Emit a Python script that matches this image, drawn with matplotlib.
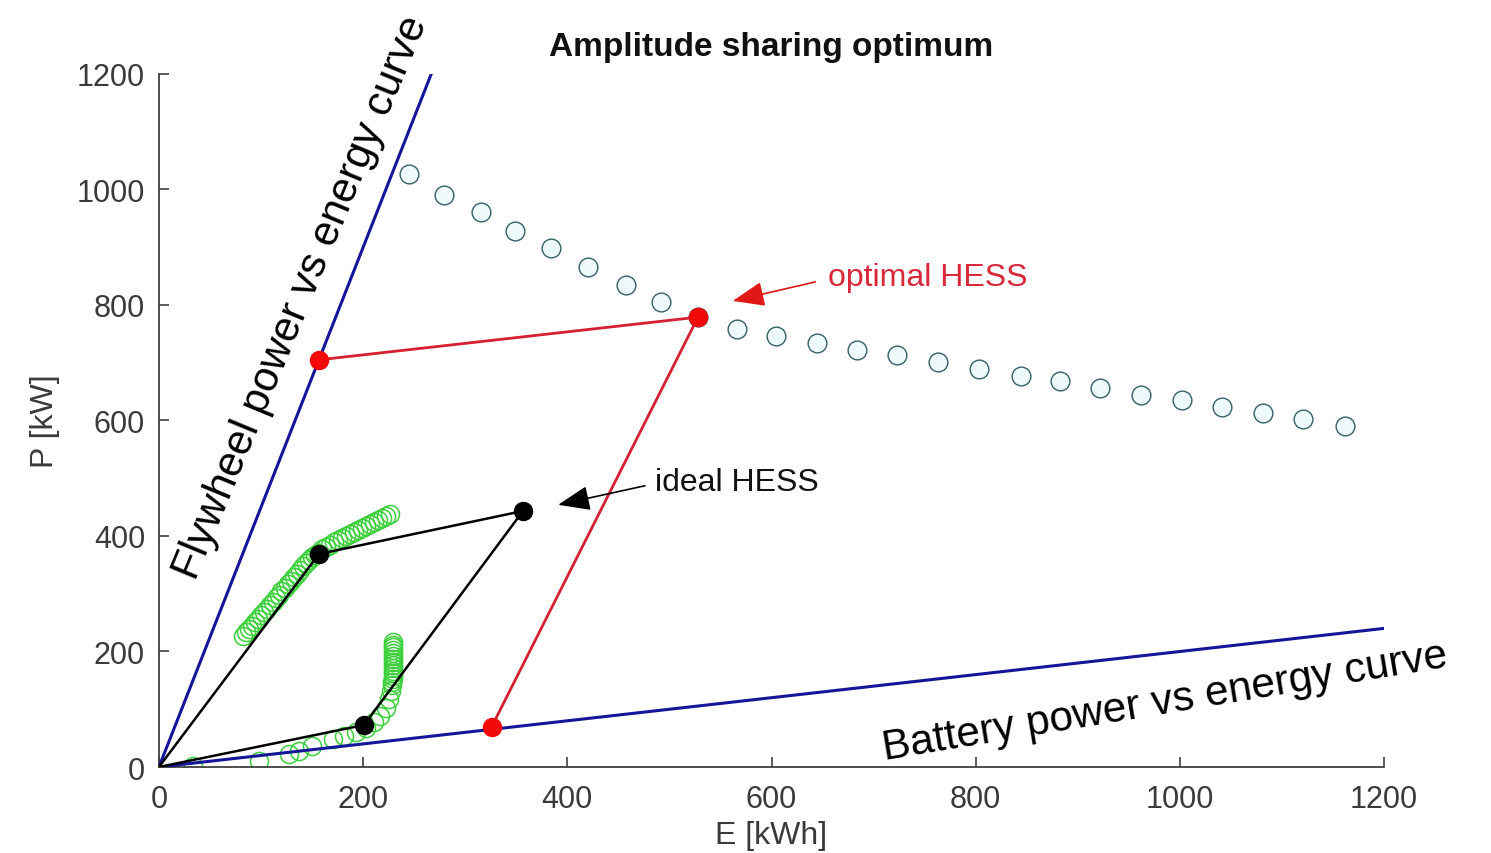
import matplotlib
matplotlib.use("Agg")
import matplotlib.pyplot as plt

plt.rcParams['font.family'] = ['Liberation Sans', 'DejaVu Sans']

# Storage characteristic lines (E [kWh], P [kW])
flywheel_E = [0, 266.7]
flywheel_P = [0, 1200]
battery_E = [0, 1200]
battery_P = [0, 240]

# Amplitude sharing candidates (blue circles)
sweep_E = [245, 279, 315, 349, 384, 420, 457, 492, 528, 566, 604, 645, 684, 723,
           763, 803, 844, 883, 922, 962, 1002, 1041, 1081, 1121, 1162]
sweep_P = [1027, 991, 961, 928, 899, 866, 835, 805, 779, 758, 746, 734, 722, 713,
           701, 689, 677, 668, 656, 644, 636, 623, 613, 603, 591]

# Flywheel-side trajectory (green circles, upper band)
fly_traj_E = [82, 85, 88, 91, 94, 97, 100, 103, 106, 109, 112, 115, 118, 120, 123,
              126, 129, 132, 135, 138, 141, 144, 147, 150, 153, 156,
              160, 164, 168, 171, 175, 179, 183, 187, 191, 195, 199, 203, 207, 211,
              215, 218, 222, 226]
fly_traj_P = [227, 234, 239, 244, 251, 256, 263, 268, 274, 280, 286, 293, 298, 305, 310,
              317, 322, 329, 334, 341, 348, 353, 358, 364, 367, 371,
              378, 381, 384, 390, 393, 397, 400, 404, 407, 410, 414, 417, 421, 424,
              428, 431, 435, 438]

# Battery-side trajectory (green circles, lower band)
bat_traj_E = [33, 98, 127, 137, 150, 170, 181, 193, 203, 211, 217, 222, 225, 227,
              228, 228, 229, 229, 229, 229, 229, 229, 229, 229, 229, 229, 229, 229, 229, 229]
bat_traj_P = [2, 11, 23, 28, 37, 49, 54, 61, 68, 78, 89, 103, 118, 132,
              142, 147, 152, 157, 162, 167, 172, 177, 182, 187, 192, 197, 202, 207, 212, 216]

# Ideal HESS (black) and optimal HESS (red) sizing paths
ideal_E = [0, 156.7, 356.6, 200.8, 0]
ideal_P = [0, 368.8, 443.3, 72.7, 0]
optimal_E = [156.6, 528, 326]
optimal_P = [705, 779, 70]

xticks = [0, 200, 400, 600, 800, 1000, 1200]
yticks = [0, 200, 400, 600, 800, 1000, 1200]

fig = plt.figure(figsize=(14.91, 8.54), dpi=100)
ax = fig.add_axes([0.1066, 0.1007, 0.8217, 0.8115])

blue = '#15159a'
ax.plot(flywheel_E, flywheel_P, color=blue, lw=2.2, zorder=3)
ax.plot(battery_E, battery_P, color=blue, lw=2.2, zorder=3)

ax.plot(sweep_E, sweep_P, 'o', ms=13.5, mfc='#eef9fc', mec='#35606a', mew=1.0,
        linestyle='none', zorder=2)

ax.plot(fly_traj_E, fly_traj_P, 'o', ms=13, mfc='none', mec='#3ccf3c', mew=1.1,
        linestyle='none', zorder=2)
ax.plot(bat_traj_E, bat_traj_P, 'o', ms=13, mfc='none', mec='#3ccf3c', mew=1.1,
        linestyle='none', zorder=2)

ax.plot(ideal_E, ideal_P, color='black', lw=1.8, zorder=4)
ax.plot(ideal_E[1:4], ideal_P[1:4], 'o', ms=13, color='black', linestyle='none', zorder=5)

ax.plot(optimal_E, optimal_P, color='#d42030', lw=2.0, zorder=4)
ax.plot(optimal_E, optimal_P, 'o', ms=13, color='#f20a0a', linestyle='none', zorder=5)

# Annotations
red_txt = '#d8283a'
ax.annotate('', xy=(562, 807), xytext=(643, 840),
            arrowprops=dict(arrowstyle='-|>,head_length=0.9,head_width=0.35',
                            color='#e01818', lw=1.2, mutation_scale=22,
                            shrinkA=0, shrinkB=0), zorder=6)
ax.text(655, 848, 'optimal HESS', color=red_txt, fontsize=23,
        ha='left', va='center', zorder=6)

ax.annotate('', xy=(391, 454), xytext=(476, 487),
            arrowprops=dict(arrowstyle='-|>,head_length=0.9,head_width=0.35',
                            color='black', lw=1.2, mutation_scale=22,
                            shrinkA=0, shrinkB=0), zorder=6)
ax.text(486, 493, 'ideal HESS', color='#111111', fontsize=23,
        ha='left', va='center', zorder=6)

ax.text(139, 815, 'Flywheel power vs energy curve', fontsize=30.5, rotation=67.5,
        rotation_mode='anchor', ha='center', va='center', color='black', zorder=6)
ax.text(985, 113, 'Battery power vs energy curve', fontsize=30.5, rotation=9.4,
        rotation_mode='anchor', ha='center', va='center', color='black', zorder=6)

ax.set_xlim(0, 1200)
ax.set_ylim(0, 1200)
ax.set_xticks(xticks)
ax.set_yticks(yticks)
ax.set_xticklabels([str(v) for v in xticks])
ax.set_yticklabels([str(v) for v in yticks])

axis_col = '#404040'
for side in ('top', 'right'):
    ax.spines[side].set_visible(False)
for side in ('left', 'bottom'):
    ax.spines[side].set_color(axis_col)
    ax.spines[side].set_linewidth(1.3)
ax.tick_params(axis='both', direction='in', length=7, width=1.2, color=axis_col,
               labelcolor='#3a3a3a', labelsize=22)
ax.tick_params(axis='y', pad=10)
ax.tick_params(axis='x', pad=12)

ax.set_xlabel('E [kWh]', fontsize=23, color='#3a3a3a')
ax.set_ylabel('P [kW]', fontsize=23, color='#3a3a3a')
ax.xaxis.set_label_coords(0.5, -0.077)
ax.yaxis.set_label_coords(-0.081, 0.5)
ax.set_title('Amplitude sharing optimum', fontsize=24, fontweight='bold',
             color='#111111', pad=14)

fig.savefig('out.png', dpi=100)
